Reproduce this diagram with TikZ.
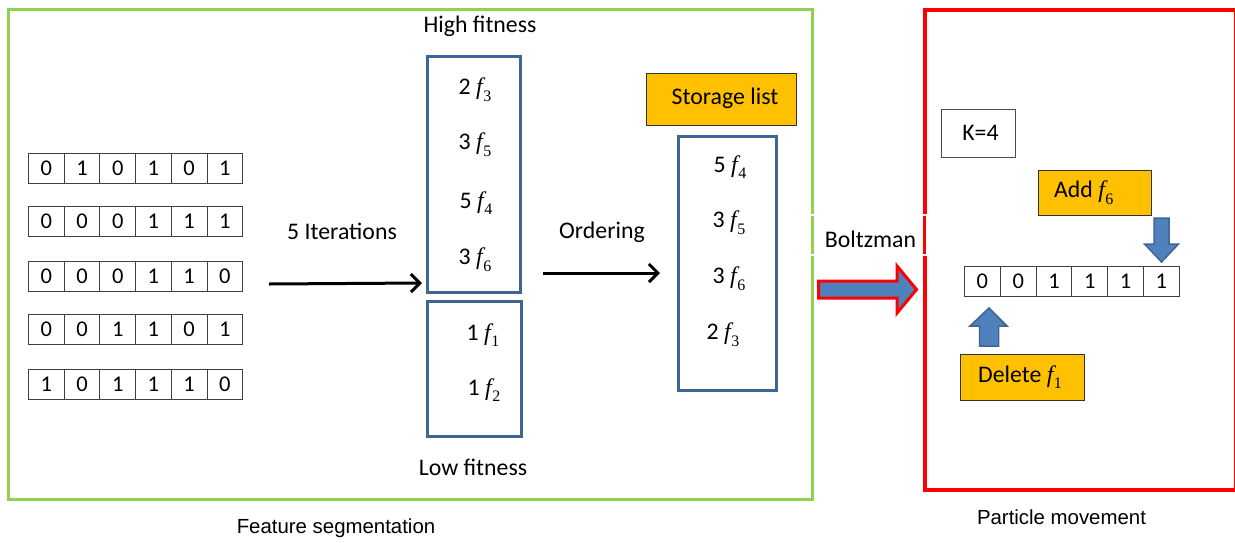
\documentclass[tikz,border=0pt]{standalone}
\usepackage{fontspec}
\setmainfont{Carlito}
\newfontfamily\arialf{Liberation Sans}
\newfontfamily\serf{Liberation Serif}
\usetikzlibrary{arrows.meta}
\definecolor{gframe}{HTML}{92D050}
\definecolor{rframe}{HTML}{FF0000}
\definecolor{bframe}{HTML}{3F6592}
\definecolor{bfill}{HTML}{4F81BD}
\definecolor{ofill}{HTML}{FFC000}
\newcommand{\fx}[1]{{\serf\itshape f}\kern0.5pt\raisebox{-0.28em}{\serf\fontsize{16}{16}\selectfont #1}}
\tikzset{
  txt/.style={font=\fontsize{23.8}{27}\selectfont, inner sep=0pt},
  atxt/.style={font=\arialf\fontsize{20.4}{24}\selectfont, inner sep=0pt},
  cell/.style={draw=black!75, line width=1pt, minimum width=35.7pt, minimum height=30pt, inner sep=0pt, anchor=north west, font=\fontsize{22.5}{24}\selectfont},
  fitbox/.style={draw=bframe, line width=3pt, anchor=north west, inner sep=0pt},
  obox/.style={draw=black!80, fill=ofill, line width=1pt, anchor=north west, inner sep=0pt},
  arr/.style={line width=3pt, -{Straight Barb[length=9pt,width=18pt,line width=3pt]}},
  blockarrow/.style={fill=bfill, draw=bframe, line width=1.5pt, line join=miter},
}
\newcommand{\mybitrow}[5]{%
  \foreach \v [count=\j] in {#5} {
    \node[cell, minimum width=#4pt] (#1c\j) at ({#2+(\j-1)*#4},#3) {\v};
  }%
}
\begin{document}
\begin{tikzpicture}[x=1pt,y=-1pt]
\useasboundingbox (0,0) rectangle (1235,542);
% frames
\node[draw=gframe, line width=3pt, minimum width=804pt, minimum height=490pt, anchor=north west, inner sep=0pt] (seg) at (7,8) {};
\node[draw=rframe, line width=4pt, minimum width=311.5pt, minimum height=480pt, anchor=north west, inner sep=0pt] (move) at (922.7,8) {};
\node[atxt] (segl) at (336,528) {Feature segmentation};
\node[atxt] (movel) at (1061.5,517) {Particle movement};
% bit rows
\mybitrow{ra}{28}{153}{35.7}{0,1,0,1,0,1}
\mybitrow{rb}{28}{206}{35.7}{0,0,0,1,1,1}
\mybitrow{rc}{28}{261}{35.7}{0,0,0,1,1,0}
\mybitrow{rd}{28}{314}{35.7}{0,0,1,1,0,1}
\mybitrow{re}{28}{369}{35.7}{1,0,1,1,1,0}
% iterations arrow
\node[txt] (itl) at (342,231) {5 Iterations};
\coordinate (its) at (269,284);
\coordinate (ite) at (422,283);
\draw[arr] (its) -- (ite);
% fitness boxes
\node[txt] (hil) at (480,26) {High fitness};
\node[fitbox, minimum width=93pt, minimum height=236pt] (high) at (426,55) {};
\node[fitbox, minimum width=94pt, minimum height=135pt] (low) at (426,300) {};
\node[txt] (lol) at (473,467) {Low fitness};
\node[txt] (h1) at (475,90) {2 \fx{3}};
\node[txt] (h2) at (475,145) {3 \fx{5}};
\node[txt] (h3) at (476,203) {5 \fx{4}};
\node[txt] (h4) at (475,260) {3 \fx{6}};
\node[txt] (l1) at (483,335) {1 \fx{1}};
\node[txt] (l2) at (484,390) {1 \fx{2}};
% ordering
\node[txt] (ordl) at (602,232) {Ordering};
\coordinate (ords) at (543,273);
\coordinate (orde) at (660,273);
\draw[arr] (ords) -- (orde);
% storage
\node[obox, minimum width=150pt, minimum height=52pt] (stl) at (646,73) {};
\node[txt] (stlt) at (725,98) {Storage list};
\node[fitbox, minimum width=98pt, minimum height=254pt] (store) at (677,135) {};
\node[txt] (s1) at (730,167) {5 \fx{4}};
\node[txt] (s2) at (729,223) {3 \fx{5}};
\node[txt] (s3) at (729,279) {3 \fx{6}};
\node[txt] (s4) at (723,335) {2 \fx{3}};
% Boltzman
\node[draw=white, line width=1.5pt, minimum width=120pt, minimum height=40pt, inner sep=0pt] (boltz) at (867,235) {};
\node[txt] (boltzt) at (870.5,239) {Boltzman};
\filldraw[fill=bfill, draw=rframe, line width=3pt, line join=miter]
  (818.5,281) -- (897,281) -- (897,266) -- (916.5,289.5) -- (897,313) -- (897,298) -- (818.5,298) -- cycle;
% particle movement contents
\node[draw=black!70, line width=1pt, minimum width=74pt, minimum height=48pt, anchor=north west, inner sep=0pt] (kbox) at (941,109) {};
\node[txt] (kt) at (980.5,133) {K=4};
\node[obox, minimum width=113pt, minimum height=45pt] (addb) at (1038,170) {};
\node[txt, anchor=west] (addt) at (1054,192.5) {Add \fx{6}};
\mybitrow{p}{964}{266}{35.8}{0,0,1,1,1,1}
\filldraw[blockarrow] (1154,218) -- (1169,218) -- (1169,244) -- (1178.5,244) -- (1161.5,262) -- (1144.5,244) -- (1154,244) -- cycle;
\filldraw[blockarrow] (979.5,346) -- (998.5,346) -- (998.5,326) -- (1007,326) -- (989,308) -- (970,326) -- (979.5,326) -- cycle;
\node[obox, minimum width=124pt, minimum height=46pt] (delb) at (960,354) {};
\node[txt] (delt) at (1020,377) {Delete \fx{1}};
\end{tikzpicture}
\end{document}
